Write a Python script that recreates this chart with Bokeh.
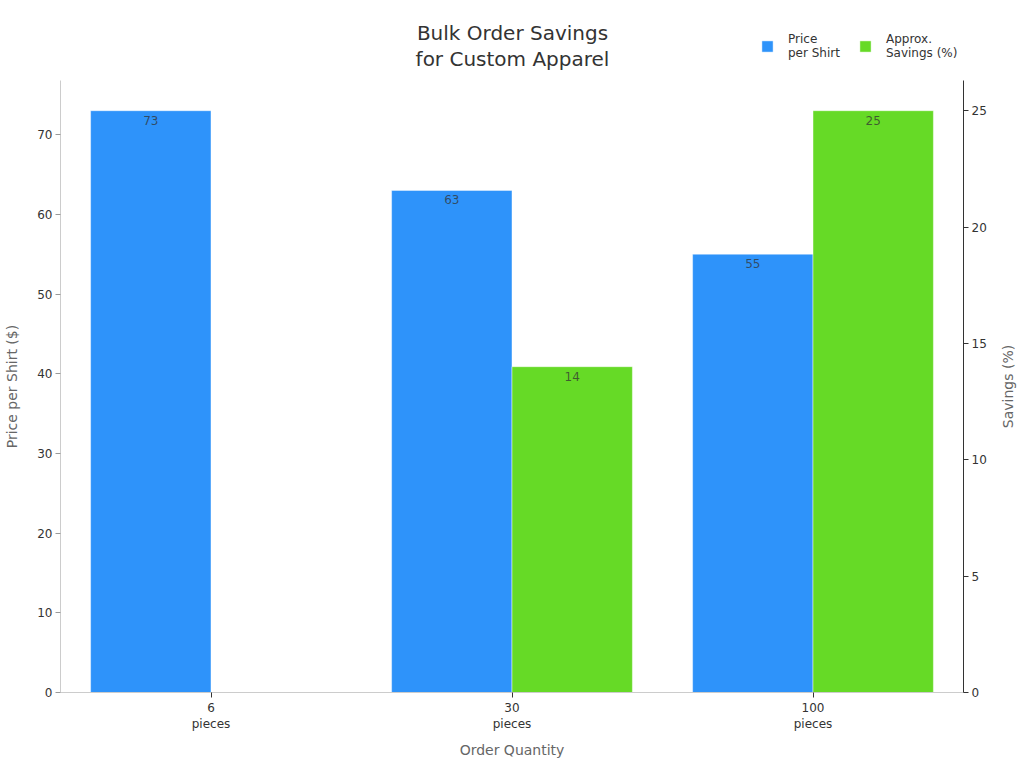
import math
from bokeh.embed import file_html
from bokeh.resources import INLINE
from bokeh.models import (ColumnDataSource, FactorRange, Range1d, LinearAxis, FixedTicker,
                          Legend, LegendItem, Label)
from bokeh.plotting import figure
from bokeh.transform import dodge

categories = ["6\npieces", "30\npieces", "100\npieces"]
price = [73, 63, 55]
savings = [None, 14, 25]
price_ticks = [0, 10, 20, 30, 40, 50, 60, 70]
savings_ticks = [0, 5, 10, 15, 20, 25]
title_text = "Bulk Order Savings\nfor Custom Apparel"
BLUE = "#2E93FA"
GREEN = "#66DA26"
price_axis_top = 76.8
savings_axis_top = 76.8 * 25 / 73
price_view_top = 692 / 7.97
savings_view_top = price_view_top * 25 / 73
# The frame runs up to the page top so the title and legend can sit inside it;
# no-break spaces bring the left axis title back to the middle of its axis line.
AXIS_TITLE_PAD = "\u00a0" * 18

p = figure(width=1024, height=768, output_backend="svg", toolbar_location=None,
           x_range=FactorRange(factors=categories, range_padding=0, factor_padding=0),
           y_range=Range1d(0, price_view_top),
           min_border_left=60, min_border_right=61, min_border_top=0, min_border_bottom=76)
p.extra_y_ranges = {"savings": Range1d(0, savings_view_top)}
p.xgrid.visible = False
p.ygrid.visible = False
p.outline_line_color = None
p.background_fill_color = "white"

p.add_layout(Label(x=452, y=621, x_units="screen", y_units="screen", text=title_text,
                   text_font="DejaVu Sans", text_font_size="20px", text_color="#333333",
                   text_align="center", text_baseline="bottom", text_line_height=1.09))

src_p = ColumnDataSource(dict(x=categories, y=price, t=[str(v) for v in price]))
sx = [c for c, v in zip(categories, savings) if v is not None]
sy = [v for v in savings if v is not None]
src_s = ColumnDataSource(dict(x=sx, y=sy, t=[str(v) for v in sy]))

bar_p = p.vbar(x=dodge("x", -0.2, range=p.x_range), top="y", width=0.4, bottom=0, source=src_p,
               fill_color=BLUE, line_color="white", line_alpha=0.45, line_width=1)
bar_s = p.vbar(x=dodge("x", 0.2, range=p.x_range), top="y", width=0.4, bottom=0, source=src_s,
               y_range_name="savings",
               fill_color=GREEN, line_color="white", line_alpha=0.45, line_width=1)

label_style = dict(text="t", text_align="center", text_baseline="top", y_offset=5,
                   text_font={"value": "DejaVu Sans"}, text_font_size={"value": "12px"},
                   text_color="#333333", text_alpha=0.75)
p.text(x=dodge("x", -0.2, range=p.x_range), y="y", source=src_p, **label_style)
p.text(x=dodge("x", 0.2, range=p.x_range), y="y", source=src_s, y_range_name="savings", **label_style)

ax = p.xaxis[0]
ax.axis_label = "Order Quantity"
ax.axis_label_text_font = "DejaVu Sans"
ax.axis_label_text_font_size = "14px"
ax.axis_label_text_font_style = "normal"
ax.axis_label_text_color = "#666666"
ax.axis_label_standoff = 8
ax.major_label_text_font = "DejaVu Sans"
ax.major_label_text_font_size = "12px"
ax.major_label_text_color = "#333333"
ax.major_label_standoff = 3
ax.axis_line_color = "#CCCCCC"
ax.major_tick_line_color = "#333333"
ax.major_tick_in = 0
ax.major_tick_out = 5
ax.minor_tick_line_color = None
ax.separator_line_color = None

ay = p.yaxis[0]
ay.bounds = (0, price_axis_top)
ay.ticker = FixedTicker(ticks=price_ticks)
ay.axis_label = "Price per Shirt ($)" + AXIS_TITLE_PAD
ay.axis_label_text_font = "DejaVu Sans"
ay.axis_label_text_font_size = "14px"
ay.axis_label_text_font_style = "normal"
ay.axis_label_text_color = "#666666"
ay.axis_label_standoff = 14
ay.major_label_text_font = "DejaVu Sans"
ay.major_label_text_font_size = "12px"
ay.major_label_text_color = "#333333"
ay.major_label_standoff = 3
ay.axis_line_color = "#CCCCCC"
ay.major_tick_line_color = "#999999"
ay.major_tick_in = 0
ay.major_tick_out = 5
ay.minor_tick_line_color = None

ar = LinearAxis(y_range_name="savings", ticker=FixedTicker(ticks=savings_ticks),
                bounds=(0, savings_axis_top),
                major_label_text_font="DejaVu Sans", major_label_text_font_size="12px",
                major_label_text_color="#333333", major_label_standoff=3,
                axis_line_color="#333333", major_tick_line_color="#333333",
                major_tick_in=0, major_tick_out=5, minor_tick_line_color=None)
p.add_layout(ar, "right")

p.add_layout(Label(x=18, y=306, x_units="screen", y_units="screen", text="Savings (%)",
                   angle=math.pi / 2, text_font="DejaVu Sans", text_font_size="14px",
                   text_color="#666666", text_align="center", text_baseline="middle"), "right")

legend = Legend(items=[LegendItem(label="Price\nper Shirt", renderers=[bar_p]),
                       LegendItem(label="Approx.\nSavings (%)", renderers=[bar_s])],
                orientation="horizontal", location=(700, 632), border_line_color=None,
                background_fill_alpha=0, label_text_font="DejaVu Sans",
                label_text_font_size="12px", label_text_color="#333333",
                glyph_width=14, glyph_height=14, label_standoff=14, spacing=18,
                margin=0, padding=0)
p.add_layout(legend, "center")

open("out.html", "w").write(file_html(p, INLINE))
